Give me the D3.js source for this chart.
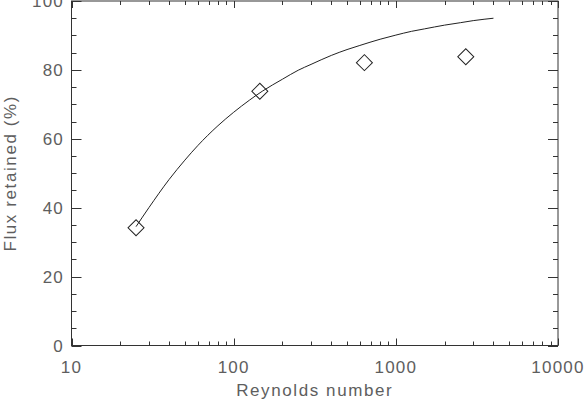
<!DOCTYPE html>
<html>
<head>
<meta charset="utf-8">
<script src="https://cdn.jsdelivr.net/npm/d3@7"></script>
<style>
  body { margin: 0; background: #fff; }
  svg { display: block; }
  .lbl { font-family: "Liberation Sans", Arial, sans-serif; font-size: 17px; fill: #5e5e5e; }
</style>
</head>
<body>
<div id="chart"></div>
<script>
// measured points
var reynolds = [25, 145, 640, 2700];
var retained = [34.2, 73.8, 82.1, 83.8];

// curve
var curveRe = [25, 30, 40, 50, 60, 80, 100, 125, 150, 200, 250, 300, 400, 500, 600, 800, 1000, 1250, 1500, 2000, 2500, 3000, 3500, 4000];
var curvePct = [34.5, 40.0, 48.2, 53.8, 58.0, 63.8, 67.7, 71.2, 73.8, 77.3, 79.9, 81.6, 84.2, 85.9, 87.1, 88.9, 90.1, 91.2, 91.9, 93.0, 93.7, 94.3, 94.7, 95.0];

var xTicks = [10, 100, 1000, 10000];
var yTicks = [0, 20, 40, 60, 80, 100];

var width = 586, height = 400;
var pLeft = 71.5, pRight = 558, pTop = 1, pBottom = 345.5;

var x = d3.scaleLog().domain([10, 10000]).range([pLeft, pRight]);
var y = d3.scaleLinear().domain([0, 100]).range([pBottom, pTop]);

var svg = d3.select("#chart").append("svg")
    .attr("width", width)
    .attr("height", height);

// box
svg.append("rect")
    .attr("x", pLeft).attr("y", pTop)
    .attr("width", pRight - pLeft).attr("height", pBottom - pTop)
    .attr("fill", "none").attr("stroke", "#333").attr("stroke-width", 1);

// x minor ticks
var xMinor = [];
for (var dec = 10; dec < 10000; dec *= 10) {
  for (var k = 2; k < 10; k++) xMinor.push(dec * k);
}

var ticks = svg.append("g").attr("stroke", "#333").attr("stroke-width", 1);

function xTickLines(vals, len) {
  vals.forEach(function(v) {
    var px = Math.round(x(v)) + 0.5;
    ticks.append("line").attr("x1", px).attr("x2", px).attr("y1", pBottom).attr("y2", pBottom - len);
    ticks.append("line").attr("x1", px).attr("x2", px).attr("y1", pTop).attr("y2", pTop + len);
  });
}
xTickLines(xMinor, 4);
xTickLines(xTicks, 7);

var yMinor = d3.range(0, 101, 5).filter(function(v) { return v % 20 != 0; });
function yTickLines(vals, len) {
  vals.forEach(function(v) {
    var py = Math.round(y(v)) + 0.5;
    ticks.append("line").attr("x1", pLeft).attr("x2", pLeft + len).attr("y1", py).attr("y2", py);
    ticks.append("line").attr("x1", pRight).attr("x2", pRight - len).attr("y1", py).attr("y2", py);
  });
}
yTickLines(yMinor, 5);
yTickLines(yTicks, 10);

// tick labels
svg.selectAll(".xl")
    .data(xTicks)
  .enter().append("text")
    .attr("class", "lbl")
    .attr("x", function(d) { return x(d); })
    .attr("y", 372.5)
    .attr("text-anchor", "middle")
    .style("letter-spacing", "1.2px")
    .text(function(d) { return d; });

svg.selectAll(".yl")
    .data(yTicks)
  .enter().append("text")
    .attr("class", "lbl")
    .attr("x", 64)
    .attr("y", function(d) { return y(d) + 6.3; })
    .attr("text-anchor", "end")
    .style("letter-spacing", "1.2px")
    .text(function(d) { return d; });

// axis titles
svg.append("text")
    .attr("class", "lbl")
    .attr("x", (pLeft + pRight) / 2)
    .attr("y", 395.5)
    .attr("text-anchor", "middle")
    .style("letter-spacing", "1.6px")
    .text("Reynolds number");

svg.append("text")
    .attr("class", "lbl")
    .attr("text-anchor", "middle")
    .attr("transform", "translate(15.5," + ((pTop + pBottom) / 2) + ")rotate(-90)")
    .style("letter-spacing", "1.6px")
    .text("Flux retained (%)");

// curve
var line = d3.line()
    .x(function(d) { return x(d[0]); })
    .y(function(d) { return y(d[1]); })
    .curve(d3.curveMonotoneX);

svg.append("path")
    .datum(d3.zip(curveRe, curvePct))
    .attr("d", line)
    .attr("fill", "none")
    .attr("stroke", "#222")
    .attr("stroke-width", 1);

// diamonds
var diamond = d3.symbol().type(d3.symbolSquare).size(128);
svg.selectAll(".pt")
    .data(d3.zip(reynolds, retained))
  .enter().append("path")
    .attr("d", diamond)
    .attr("transform", function(d) { return "translate(" + x(d[0]) + "," + y(d[1]) + ")rotate(45)"; })
    .attr("fill", "none")
    .attr("stroke", "#222")
    .attr("stroke-width", 1);
</script>
</body>
</html>
